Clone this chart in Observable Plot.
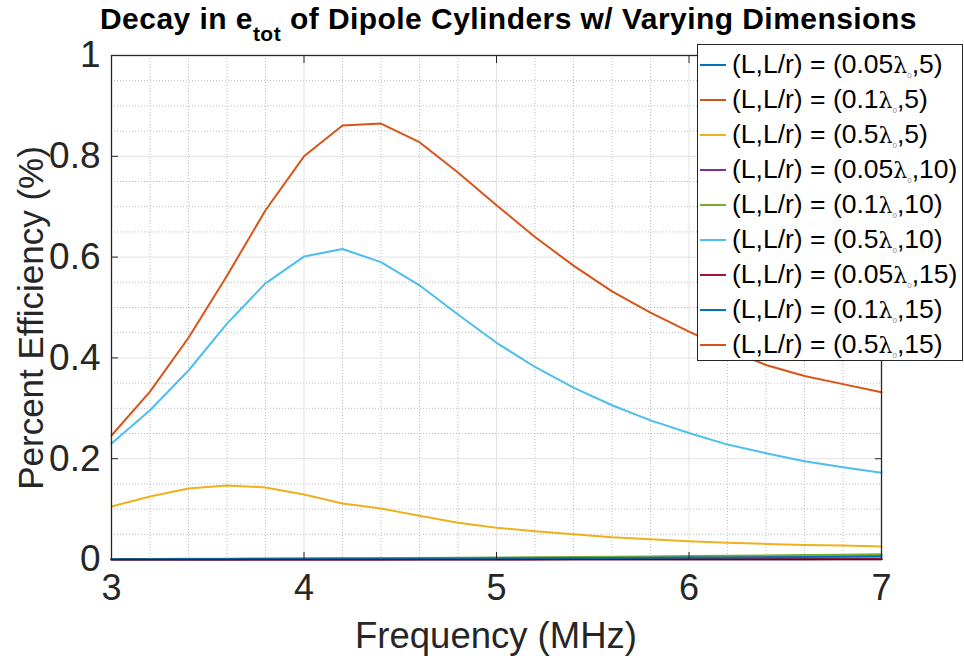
<!DOCTYPE html>
<html><head><meta charset="utf-8">
<script src="https://cdn.jsdelivr.net/npm/d3@7"></script>
<script src="https://cdn.jsdelivr.net/npm/@observablehq/plot@0.6"></script>
<style>
body{margin:0;background:#fff;font-family:"Liberation Sans",Arial,sans-serif;color:#000;}
#wrap{position:relative;width:964px;height:662px;overflow:hidden;}
#title{height:40px;position:relative;}
#title span{position:absolute;left:100px;top:4px;font-family:"Liberation Sans",Arial,sans-serif;font-weight:bold;font-size:30px;letter-spacing:0.45px;white-space:nowrap;line-height:30px;}
#title sub{font-size:21px;vertical-align:-12px;line-height:0;}
#legend{position:absolute;left:697px;top:44px;width:264px;height:315px;border:1px solid #262626;background:#fff;box-sizing:content-box;}
.row{position:absolute;left:2px;height:35px;display:flex;align-items:center;white-space:nowrap;font-size:26.5px;color:#000;}
.sw{width:26px;height:2px;margin-right:6px;}
.row sub{font-size:8px;vertical-align:-5px;line-height:0;color:#888;}
.lam{font-family:"DejaVu Serif",serif;font-size:22px;}
</style></head>
<body><div id="wrap"><div id="title"><span>Decay in e<sub>tot</sub> of Dipole Cylinders w/ Varying Dimensions</span></div><div id="chart"></div><div id="legend"></div></div>
<script>
const freq = [3,3.2,3.4,3.6,3.8,4,4.2,4.4,4.6,4.8,5,5.2,5.4,5.6,5.8,6,6.2,6.4,6.6,6.8,7];
const seriesNames = ["(0.05,5)","(0.1,5)","(0.5,5)","(0.05,10)","(0.1,10)","(0.5,10)","(0.05,15)","(0.1,15)","(0.5,15)"];
const legendL = ["0.05","0.1","0.5","0.05","0.1","0.5","0.05","0.1","0.5"];
const legendR = ["5","5","5","10","10","10","15","15","15"];
const colors = ["#0072BD","#D95319","#EDB120","#7E2F8E","#77AC30","#4DBEEE","#A2142F","#0072BD","#D95319"];
const e005_5  = [0.0001,0.0001,0.0002,0.0002,0.0003,0.0003,0.0004,0.0005,0.0005,0.0006,0.0007,0.0008,0.0009,0.0010,0.0011,0.0012,0.0013,0.0014,0.0015,0.0016,0.0017];
const e01_5   = [0.0006,0.0008,0.0010,0.0012,0.0014,0.0016,0.0019,0.0021,0.0024,0.0027,0.0030,0.0033,0.0037,0.0040,0.0044,0.0048,0.0052,0.0056,0.0061,0.0066,0.0071];
const e05_5   = [0.105,0.125,0.141,0.147,0.143,0.129,0.111,0.101,0.087,0.073,0.063,0.056,0.050,0.044,0.040,0.036,0.033,0.031,0.029,0.028,0.026];
const e005_10 = [0.0000,0.0001,0.0001,0.0001,0.0001,0.0002,0.0002,0.0002,0.0003,0.0003,0.0003,0.0004,0.0004,0.0005,0.0005,0.0006,0.0006,0.0007,0.0007,0.0008,0.0009];
const e01_10  = [0.0010,0.0012,0.0014,0.0016,0.0019,0.0022,0.0025,0.0028,0.0032,0.0036,0.0040,0.0045,0.0050,0.0055,0.0061,0.0067,0.0073,0.0080,0.0087,0.0094,0.0102];
const e05_10  = [0.230,0.296,0.375,0.468,0.548,0.601,0.616,0.590,0.544,0.486,0.430,0.382,0.341,0.306,0.276,0.251,0.228,0.211,0.195,0.183,0.172];
const e005_15 = [0.0000,0.0000,0.0000,0.0001,0.0001,0.0001,0.0001,0.0001,0.0002,0.0002,0.0002,0.0002,0.0003,0.0003,0.0003,0.0004,0.0004,0.0004,0.0005,0.0005,0.0006];
const e01_15  = [0.0005,0.0006,0.0008,0.0009,0.0011,0.0013,0.0015,0.0017,0.0019,0.0021,0.0024,0.0026,0.0029,0.0032,0.0035,0.0038,0.0042,0.0046,0.0050,0.0054,0.0058];
const e05_15  = [0.246,0.333,0.440,0.563,0.693,0.800,0.861,0.865,0.828,0.768,0.703,0.640,0.583,0.532,0.490,0.452,0.417,0.386,0.364,0.348,0.332];
const xTicks = [3,4,5,6,7];
const yTicks = [0,0.2,0.4,0.6,0.8,1];
const xMinor = [3.2,3.4,3.6,3.8,4.2,4.4,4.6,4.8,5.2,5.4,5.6,5.8,6.2,6.4,6.6,6.8];
const yMinor = [0.05,0.1,0.15,0.25,0.3,0.35,0.45,0.5,0.55,0.65,0.7,0.75,0.85,0.9,0.95];

const allSeries = [e005_5,e01_5,e05_5,e005_10,e01_10,e05_10,e005_15,e01_15,e05_15];
const rows = [];
allSeries.forEach((s,i)=> s.forEach((v,j)=> rows.push({f:freq[j], v, name:seriesNames[i], idx:i})));

const font = "'Liberation Sans', Arial, sans-serif";
const chart = Plot.plot({
  width: 964, height: 622,
  marginTop: 15, marginBottom: 103, marginLeft: 111, marginRight: 83,
  x: {domain:[3,7]},
  y: {domain:[0,1]},
  style: {fontFamily: font, fontSize: "36px", color:"#262626", background:"#fff", overflow:"visible"},
  marks: [
    Plot.ruleX(xMinor, {stroke:"#bdbdbd", strokeDasharray:"1,2", strokeWidth:1}),
    Plot.ruleY(yMinor, {stroke:"#bdbdbd", strokeDasharray:"1,2", strokeWidth:1}),
    Plot.ruleX(xTicks, {stroke:"#e3e3e3", strokeWidth:1}),
    Plot.ruleY(yTicks, {stroke:"#e3e3e3", strokeWidth:1}),
    ...allSeries.map((s,i)=> Plot.line(rows.filter(d=>d.idx===i), {x:"f", y:"v", stroke: colors[i], strokeWidth:2})),
    Plot.frame({stroke:"#262626", strokeWidth:1.3}),
    Plot.axisX(xTicks, {anchor:"bottom", tickSize:0, tickPadding:15, label:null, fontSize:36, tickFormat: d=>String(d)}),
    Plot.axisX(xTicks, {anchor:"bottom", tickSize:-7, text:null, label:null, stroke:"#262626"}),
    Plot.axisX(xTicks, {anchor:"top", tickSize:-7, text:null, label:null, stroke:"#262626"}),
    Plot.axisY(yTicks, {anchor:"left", tickSize:0, tickPadding:11, label:null, fontSize:37, tickFormat: d=>String(d)}),
    Plot.axisY(yTicks, {anchor:"left", tickSize:-7, text:null, label:null, stroke:"#262626"}),
    Plot.axisY(yTicks, {anchor:"right", tickSize:-7, text:null, label:null, stroke:"#262626"})
  ]
});
document.getElementById("chart").appendChild(chart);

const svg = d3.select(chart);
svg.append("text").attr("x", 496).attr("y", 608).attr("text-anchor","middle")
  .attr("font-size", 36.5).attr("fill","#262626").attr("font-family", font).text("Frequency (MHz)");
svg.append("text").attr("transform","translate(43,278) rotate(-90)").attr("text-anchor","middle")
  .attr("font-size", 35).attr("fill","#262626").attr("font-family", font).text("Percent Efficiency (%)");

const leg = document.getElementById("legend");
seriesNames.forEach((n,i)=>{
  const r = document.createElement("div");
  r.className = "row";
  r.style.top = (2 + i*35) + "px";
  r.innerHTML = `<div class="sw" style="background:${colors[i]}"></div><span>(L,L/r) = (${legendL[i]}<span class="lam">λ</span><sub>0</sub>,${legendR[i]})</span>`;
  leg.appendChild(r);
});
</script></body></html>
